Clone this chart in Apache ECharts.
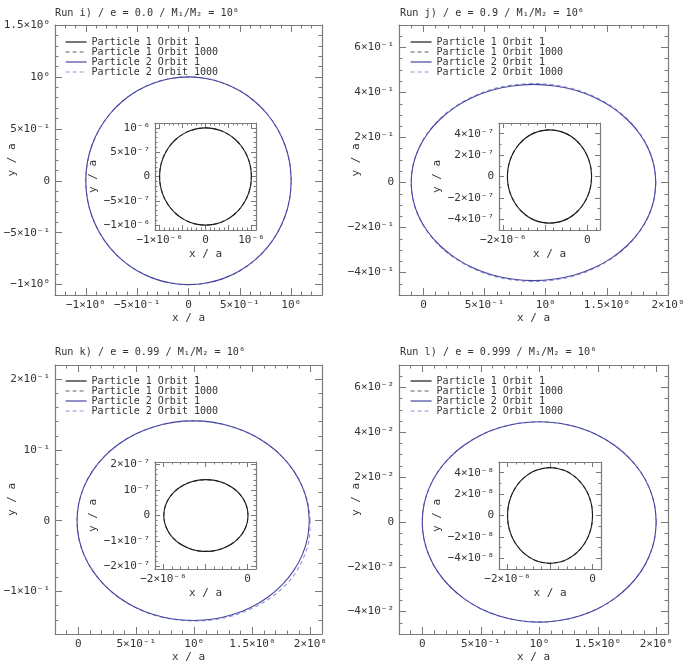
<!DOCTYPE html>
<html><head><meta charset="utf-8">
<script src="https://cdn.jsdelivr.net/npm/echarts@6/dist/echarts.min.js"></script>
<style>html,body{margin:0;padding:0;background:#fff}#c{width:684px;height:667px}</style>
</head><body><div id="c"></div>
<script>
// ---------------- DATA ----------------
const SERIES_NAMES = ['Particle 1 Orbit 1','Particle 1 Orbit 1000','Particle 2 Orbit 1','Particle 2 Orbit 1000'];
const TITLES = ['Run i) / e = 0.0 / M₁/M₂ = 10⁶','Run j) / e = 0.9 / M₁/M₂ = 10⁶','Run k) / e = 0.99 / M₁/M₂ = 10⁶','Run l) / e = 0.999 / M₁/M₂ = 10⁶'];

// Run i) main panel: particle 2 (units of a)
const I_P2_X = [1,.985,.940,.866,.766,.643,.5,.342,.174,0,-.174,-.342,-.5,-.643,-.766,-.866,-.940,-.985,-1,-.985,-.940,-.866,-.766,-.643,-.5,-.342,-.174,0,.174,.342,.5,.643,.766,.866,.940,.985,1];
const I_P2_Y = [0,.174,.342,.5,.643,.766,.866,.940,.985,1,.985,.940,.866,.766,.643,.5,.342,.174,0,-.174,-.342,-.5,-.643,-.766,-.866,-.940,-.985,-1,-.985,-.940,-.866,-.766,-.643,-.5,-.342,-.174,0];
// Run i) inset: particle 1 (units of 1e-6 a)
const I_P1_X = [1,.985,.940,.866,.766,.643,.5,.342,.174,0,-.174,-.342,-.5,-.643,-.766,-.866,-.940,-.985,-1,-.985,-.940,-.866,-.766,-.643,-.5,-.342,-.174,0,.174,.342,.5,.643,.766,.866,.940,.985,1];
const I_P1_Y = [0,.174,.342,.5,.643,.766,.866,.940,.985,1,.985,.940,.866,.766,.643,.5,.342,.174,0,-.174,-.342,-.5,-.643,-.766,-.866,-.940,-.985,-1,-.985,-.940,-.866,-.766,-.643,-.5,-.342,-.174,0];

// Run j)
const J_P2_X = [1.9,1.885,1.840,1.766,1.666,1.543,1.4,1.242,1.074,.9,.726,.558,.4,.257,.134,.034,-.040,-.085,-.1,-.085,-.040,.034,.134,.257,.4,.558,.726,.9,1.074,1.242,1.4,1.543,1.666,1.766,1.840,1.885,1.9];
const J_P2_Y = [0,.076,.149,.218,.280,.334,.378,.410,.429,.436,.429,.410,.378,.334,.280,.218,.149,.076,0,-.076,-.149,-.218,-.280,-.334,-.378,-.410,-.429,-.436,-.429,-.410,-.378,-.334,-.280,-.218,-.149,-.076,0];
const J_P2_Y1000 = [0,.077,.151,.220,.283,.337,.381,.414,.433,.440,.433,.414,.381,.337,.283,.220,.151,.077,0,-.077,-.151,-.220,-.283,-.337,-.381,-.414,-.433,-.440,-.433,-.414,-.381,-.337,-.283,-.220,-.151,-.077,0];
const J_P1_X = [.1,.085,.040,-.034,-.134,-.257,-.4,-.558,-.726,-.9,-1.074,-1.242,-1.4,-1.543,-1.666,-1.766,-1.840,-1.885,-1.9,-1.885,-1.840,-1.766,-1.666,-1.543,-1.4,-1.242,-1.074,-.9,-.726,-.558,-.4,-.257,-.134,-.034,.040,.085,.1];
const J_P1_Y = [0,.076,.149,.218,.280,.334,.378,.410,.429,.436,.429,.410,.378,.334,.280,.218,.149,.076,0,-.076,-.149,-.218,-.280,-.334,-.378,-.410,-.429,-.436,-.429,-.410,-.378,-.334,-.280,-.218,-.149,-.076,0];

// Run k)
const K_P2_X = [1.99,1.975,1.930,1.856,1.756,1.633,1.49,1.332,1.164,.99,.816,.648,.49,.347,.224,.124,.050,.005,-.01,.005,.050,.124,.224,.347,.49,.648,.816,.99,1.164,1.332,1.49,1.633,1.756,1.856,1.930,1.975,1.99];
const K_P2_Y = [0,.0245,.0482,.0705,.0906,.108,.1221,.1325,.1389,.141,.1389,.1325,.1221,.108,.0906,.0705,.0482,.0245,0,-.0245,-.0482,-.0705,-.0906,-.108,-.1221,-.1325,-.1389,-.141,-.1389,-.1325,-.1221,-.108,-.0906,-.0705,-.0482,-.0245,0];
const K_P2_X1000 = [1.998,1.980,1.930,1.856,1.756,1.633,1.49,1.332,1.164,.99,.816,.648,.49,.347,.224,.124,.050,.005,-.01,.005,.050,.124,.224,.347,.49,.648,.816,.99,1.164,1.334,1.495,1.642,1.768,1.869,1.944,1.990,1.998];
const K_P2_Y1000 = [0,.0245,.0482,.0705,.0906,.108,.1221,.1325,.1389,.141,.1389,.1325,.1221,.108,.0906,.0705,.0482,.0245,0,-.0245,-.0482,-.0705,-.0906,-.108,-.1222,-.133,-.1392,-.1415,-.1400,-.1340,-.1240,-.1105,-.0940,-.0745,-.0510,-.0260,0];
const K_P1_X = [.01,-.005,-.05,-.124,-.224,-.347,-.49,-.648,-.816,-.99,-1.164,-1.332,-1.49,-1.633,-1.756,-1.856,-1.930,-1.975,-1.99,-1.975,-1.930,-1.856,-1.756,-1.633,-1.49,-1.332,-1.164,-.99,-.816,-.648,-.49,-.347,-.224,-.124,-.05,-.005,.01];
const K_P1_Y = [0,.0245,.0482,.0705,.0906,.108,.1221,.1325,.1389,.141,.1389,.1325,.1221,.108,.0906,.0705,.0482,.0245,0,-.0245,-.0482,-.0705,-.0906,-.108,-.1221,-.1325,-.1389,-.141,-.1389,-.1325,-.1221,-.108,-.0906,-.0705,-.0482,-.0245,0];

// Run l)
const L_P2_X = [1.999,1.984,1.939,1.865,1.765,1.642,1.499,1.341,1.173,.999,.825,.657,.499,.356,.233,.133,.059,.014,-.001,.014,.059,.133,.233,.356,.499,.657,.825,.999,1.173,1.341,1.499,1.642,1.765,1.865,1.939,1.984,1.999];
const L_P2_Y = [0,.0078,.0153,.0224,.0287,.0342,.0387,.0420,.0440,.0447,.0440,.0420,.0387,.0342,.0287,.0224,.0153,.0078,0,-.0078,-.0153,-.0224,-.0287,-.0342,-.0387,-.0420,-.0440,-.0447,-.0440,-.0420,-.0387,-.0342,-.0287,-.0224,-.0153,-.0078,0];
const L_P1_X = [.001,-.014,-.059,-.133,-.233,-.356,-.499,-.657,-.825,-.999,-1.173,-1.341,-1.499,-1.642,-1.765,-1.865,-1.939,-1.984,-1.999,-1.984,-1.939,-1.865,-1.765,-1.642,-1.499,-1.341,-1.173,-.999,-.825,-.657,-.499,-.356,-.233,-.133,-.059,-.014,.001];
const L_P1_Y = [0,.0078,.0153,.0224,.0287,.0342,.0387,.0420,.0440,.0447,.0440,.0420,.0387,.0342,.0287,.0224,.0153,.0078,0,-.0078,-.0153,-.0224,-.0287,-.0342,-.0387,-.0420,-.0440,-.0447,-.0440,-.0420,-.0387,-.0342,-.0287,-.0224,-.0153,-.0078,0];

// Tick labels
const MI_XT = [-1,-0.5,0,0.5,1], MI_XL = ['−1×10⁰','−5×10⁻¹','0','5×10⁻¹','10⁰'];
const MI_YT = [-1,-0.5,0,0.5,1,1.5], MI_YL = ['−1×10⁰','−5×10⁻¹','0','5×10⁻¹','10⁰','1.5×10⁰'];
const MJ_XT = [0,0.5,1,1.5,2], MJ_XL = ['0','5×10⁻¹','10⁰','1.5×10⁰','2×10⁰'];
const MJ_YT = [-0.4,-0.2,0,0.2,0.4,0.6], MJ_YL = ['−4×10⁻¹','−2×10⁻¹','0','2×10⁻¹','4×10⁻¹','6×10⁻¹'];
const MK_YT = [-0.1,0,0.1,0.2], MK_YL = ['−1×10⁻¹','0','10⁻¹','2×10⁻¹'];
const ML_YT = [-0.04,-0.02,0,0.02,0.04,0.06], ML_YL = ['−4×10⁻²','−2×10⁻²','0','2×10⁻²','4×10⁻²','6×10⁻²'];
// insets (values in units of 1e-6)
const II_XT = [-1,0,1], II_XL = ['−1×10⁻⁶','0','10⁻⁶'];
const II_YT = [-1,-0.5,0,0.5,1], II_YL = ['−1×10⁻⁶','−5×10⁻⁷','0','5×10⁻⁷','10⁻⁶'];
const IJ_XT = [-2,0], IJ_XL = ['−2×10⁻⁶','0'];
const IJ_YT = [-0.4,-0.2,0,0.2,0.4], IJ_YL = ['−4×10⁻⁷','−2×10⁻⁷','0','2×10⁻⁷','4×10⁻⁷'];
const IK_YT = [-0.2,-0.1,0,0.1,0.2], IK_YL = ['−2×10⁻⁷','−1×10⁻⁷','0','10⁻⁷','2×10⁻⁷'];
const IL_YT = [-0.04,-0.02,0,0.02,0.04], IL_YL = ['−4×10⁻⁸','−2×10⁻⁸','0','2×10⁻⁸','4×10⁻⁸'];

// ---------------- LAYOUT / STYLE ----------------
const FONT = 'DejaVu Sans Mono';
const BOX = '#7a7a7a';
const TXT = '#333333';
const C_P1 = '#1a1a1a', C_P1D = '#606060', C_P2 = '#4646a0', C_P2D = '#9494d8';

const PANELS = [
  {grid:{left:55,top:25,width:267,height:270}, x:[-1.3,1.3,0.1,MI_XT,MI_XT,MI_XL], y:[-1.1,1.5,0.1,MI_YT,MI_YT,MI_YL], inset:false},
  {grid:{left:399,top:25,width:269,height:270}, x:[-0.2,2.0,0.1,MJ_XT,MJ_XT,MJ_XL], y:[-0.5,0.7,0.05,MJ_YT,MJ_YT,MJ_YL], inset:false},
  {grid:{left:55,top:365,width:267,height:269}, x:[-0.2,2.1,0.1,MJ_XT,MJ_XT,MJ_XL], y:[-0.16,0.22,0.02,MK_YT,MK_YT,MK_YL], inset:false},
  {grid:{left:399,top:365,width:269,height:269}, x:[-0.2,2.1,0.1,MJ_XT,MJ_XT,MJ_XL], y:[-0.05,0.07,0.005,ML_YT,ML_YT,ML_YL], inset:false},
  {grid:{left:155,top:123,width:101,height:107}, x:[-1.1,1.1,0.1,[-1,-0.5,0,0.5,1],II_XT,II_XL], y:[-1.1,1.1,0.1,II_YT,II_YT,II_YL], inset:true},
  {grid:{left:499,top:123,width:101,height:107}, x:[-2.1,0.3,0.2,[-2,-1,0],IJ_XT,IJ_XL], y:[-0.5,0.5,0.1,IJ_YT,IJ_YT,IJ_YL], inset:true},
  {grid:{left:155,top:462,width:101,height:107}, x:[-2.2,0.2,0.2,[-2,-1,0],IJ_XT,IJ_XL], y:[-0.21,0.21,0.02,IK_YT,IK_YT,IK_YL], inset:true},
  {grid:{left:499,top:462,width:102,height:107}, x:[-2.2,0.2,0.2,[-2,-1,0],IJ_XT,IJ_XL], y:[-0.05,0.05,0.01,IL_YT,IL_YT,IL_YL], inset:true}
];

function steps(min, max, step){
  const out = []; const n0 = Math.ceil(min/step - 1e-9), n1 = Math.floor(max/step + 1e-9);
  for (let i = n0; i <= n1; i++) out.push(+(i*step).toFixed(10));
  return out;
}
function labelFmt(vals, texts){
  return function(v){ for (let i=0;i<vals.length;i++){ if (Math.abs(vals[i]-v) < 1e-9) return texts[i]; } return ''; };
}
const xAxes = [], yAxes = [], grids = [];
const primary = [];
PANELS.forEach((p, gi) => {
  grids.push(Object.assign({containLabel:false, outerBoundsMode:'none'}, p.grid));
  const L = p.inset ? 5 : 7, l = p.inset ? 2.5 : 3.5;
  const build = (dim, spec) => {
    const [mn, mx, mstep, majors, lvals, ltexts] = spec;
    const pos = dim === 'x' ? ['bottom','top'] : ['left','right'];
    const arr = dim === 'x' ? xAxes : yAxes;
    const base = arr.length;
    const common = {type:'value', gridIndex:gi, min:mn, max:mx, splitLine:{show:false}, z: p.inset ? 5 : 2};
    arr.push(Object.assign({}, common, {
      position: pos[0],
      axisLine:{show:true, onZero:false, lineStyle:{color:BOX, width:1.2}},
      axisTick:{show:true, inside:true, length:L, customValues:majors, lineStyle:{color:BOX, width:1}},
      axisLabel:{show:true, customValues:lvals, formatter:labelFmt(lvals, ltexts), margin:5,
        fontFamily:FONT, fontSize:11, color:TXT},
      name: dim === 'x' ? 'x / a' : 'y / a', nameLocation:'middle', nameMoveOverlap:false,
      nameGap: dim === 'x' ? (p.inset ? 19 : 18) : (p.inset ? 56 : 37),
      nameTextStyle:{fontFamily:FONT, fontSize:11, color:TXT}
    }));
    arr.push(Object.assign({}, common, {
      position: pos[0], axisLine:{show:false, onZero:false},
      axisTick:{show:true, inside:true, length:l, customValues:steps(mn,mx,mstep), lineStyle:{color:BOX, width:1}},
      axisLabel:{show:false}
    }));
    arr.push(Object.assign({}, common, {
      position: pos[1], axisLine:{show:true, onZero:false, lineStyle:{color:BOX, width:1.2}},
      axisTick:{show:true, inside:true, length:L, customValues:majors, lineStyle:{color:BOX, width:1}},
      axisLabel:{show:false}
    }));
    arr.push(Object.assign({}, common, {
      position: pos[1], axisLine:{show:false, onZero:false},
      axisTick:{show:true, inside:true, length:l, customValues:steps(mn,mx,mstep), lineStyle:{color:BOX, width:1}},
      axisLabel:{show:false}
    }));
    return base;
  };
  primary.push({x: build('x', p.x), y: build('y', p.y)});
});

function zip(xs, ys){ return xs.map((x,i) => [x, ys[i]]); }
function line(name, gi, xs, ys, color, dashed, z){
  return {type:'line', name, xAxisIndex:primary[gi].x, yAxisIndex:primary[gi].y, data:zip(xs, ys),
    showSymbol:false, symbol:'none', animation:false, silent:true, z:z, smooth:0.35,
    lineStyle:{color, width:1.1, type: dashed ? [4,3] : 'solid'}, itemStyle:{color}};
}
const series = [
  line(SERIES_NAMES[3], 0, I_P2_X, I_P2_Y, C_P2D, true, 3), line(SERIES_NAMES[2], 0, I_P2_X, I_P2_Y, C_P2, false, 4),
  line(SERIES_NAMES[3], 1, J_P2_X, J_P2_Y1000, C_P2D, true, 3), line(SERIES_NAMES[2], 1, J_P2_X, J_P2_Y, C_P2, false, 4),
  line(SERIES_NAMES[3], 2, K_P2_X1000, K_P2_Y1000, C_P2D, true, 3), line(SERIES_NAMES[2], 2, K_P2_X, K_P2_Y, C_P2, false, 4),
  line(SERIES_NAMES[3], 3, L_P2_X, L_P2_Y, C_P2D, true, 3), line(SERIES_NAMES[2], 3, L_P2_X, L_P2_Y, C_P2, false, 4),
  line(SERIES_NAMES[1], 4, I_P1_X, I_P1_Y, C_P1D, true, 6), line(SERIES_NAMES[0], 4, I_P1_X, I_P1_Y, C_P1, false, 7),
  line(SERIES_NAMES[1], 5, J_P1_X, J_P1_Y, C_P1D, true, 6), line(SERIES_NAMES[0], 5, J_P1_X, J_P1_Y, C_P1, false, 7),
  line(SERIES_NAMES[1], 6, K_P1_X, K_P1_Y, C_P1D, true, 6), line(SERIES_NAMES[0], 6, K_P1_X, K_P1_Y, C_P1, false, 7),
  line(SERIES_NAMES[1], 7, L_P1_X, L_P1_Y, C_P1D, true, 6), line(SERIES_NAMES[0], 7, L_P1_X, L_P1_Y, C_P1, false, 7)
];

const TITLE_POS = [[55,8],[400,8],[55,347],[400,347]];
const LEGEND_POS = [[65,37],[410,37],[65,376],[410,376]];

const chart = echarts.init(document.getElementById('c'), null, {renderer:'canvas'});
chart.setOption({
  animation:false,
  backgroundColor:'#fff',
  title: TITLES.map((t,i) => ({text:t, left:TITLE_POS[i][0], top:TITLE_POS[i][1], padding:0,
    textStyle:{fontFamily:FONT, fontSize:10.2, fontWeight:'normal', color:TXT}})),
  legend: LEGEND_POS.map(p => ({data:SERIES_NAMES, orient:'vertical', left:p[0], top:p[1], padding:0,
    itemGap:0, itemWidth:21, itemHeight:8, selectedMode:false,
    itemStyle:{opacity:0}, lineStyle:{width:1.2},
    textStyle:{fontFamily:FONT, fontSize:10, color:TXT, lineHeight:10}})),
  grid: grids, xAxis: xAxes, yAxis: yAxes, series
});
</script></body></html>
